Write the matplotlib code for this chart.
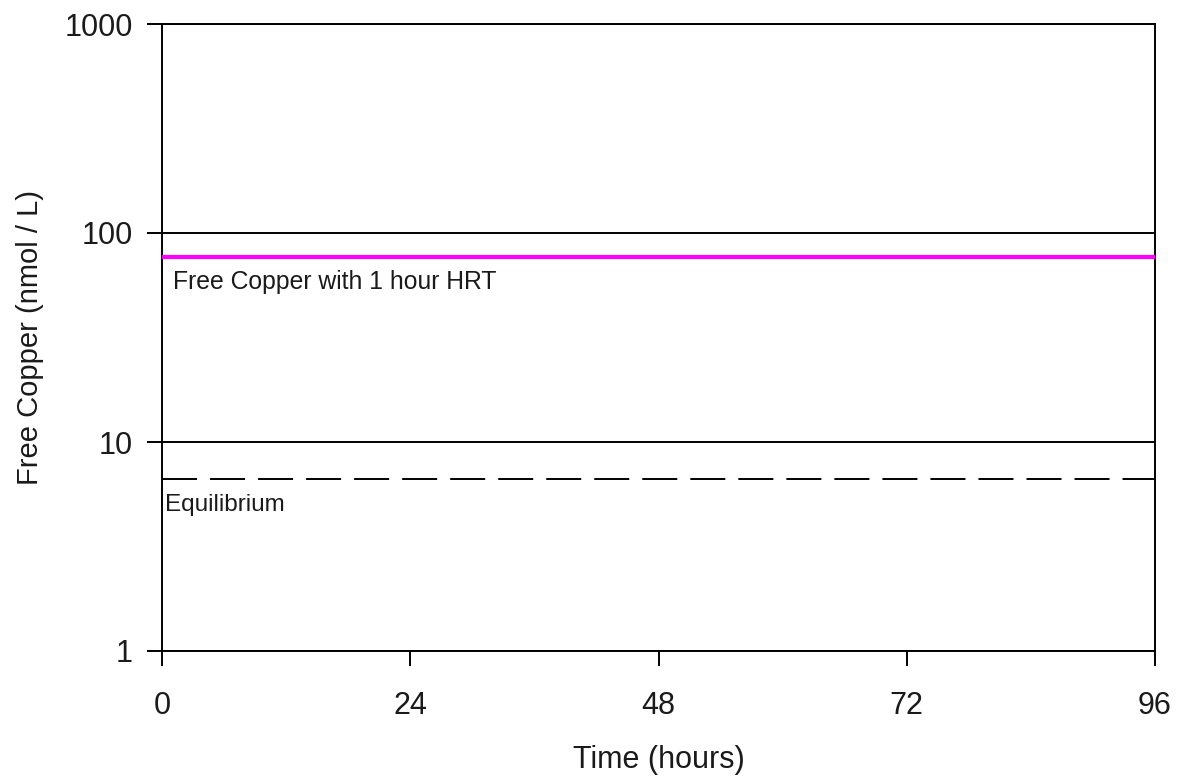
import matplotlib
matplotlib.use("Agg")
import matplotlib.pyplot as plt

# data
hours = [0, 96]
free_cu_1h_hrt = [76.5, 76.5]
equilibrium = [6.65, 6.65]
x_ticks = [0, 24, 48, 72, 96]
y_ticks = [1, 10, 100, 1000]

plt.rcParams['font.family'] = ['Liberation Sans', 'DejaVu Sans']
txt = '#1a1a1a'

fig = plt.figure(figsize=(11.78, 7.80), dpi=100)
ax = fig.add_axes([162/1178, 1 - 651/780, (1155-162)/1178, (651-24)/780])

ax.set_yscale('log')
ax.set_xlim(0, 96)
ax.set_ylim(1, 1000)

# major gridlines
for v in y_ticks:
    ax.axhline(v, color='black', lw=1.4, zorder=1)

ax.plot(hours, free_cu_1h_hrt, color='#ff00ff', lw=3, zorder=3)
ax.plot(hours, equilibrium, color='black', lw=1.4, dashes=(18, 6.7), zorder=3)

ax.text(1.05, 58, "Free Copper with 1 hour HRT", fontsize=17.8, va='center', ha='left', color=txt)
ax.text(0.25, 5.0, "Equilibrium", fontsize=17.5, va='center', ha='left', color=txt)

ax.set_xticks(x_ticks)
ax.set_xticklabels([str(t) for t in x_ticks])
ax.set_yticks(y_ticks)
ax.set_yticklabels([str(t) for t in y_ticks])
ax.minorticks_off()
ax.tick_params(axis='both', direction='out', length=11, width=1.4, labelsize=22,
               color='black', labelcolor=txt)
ax.tick_params(axis='x', pad=18)
ax.tick_params(axis='y', pad=10)

for s in ax.spines.values():
    s.set_linewidth(1.4)

ax.set_xlabel("Time (hours)", fontsize=22, color=txt, va='center')
ax.set_ylabel("Free Copper (nmol / L)", fontsize=21, color=txt, va='center')
ax.xaxis.set_label_coords(0.5, (651 - 760) / 627)
ax.yaxis.set_label_coords((30 - 162) / 993, 0.5)

fig.savefig("out.png", dpi=100)
